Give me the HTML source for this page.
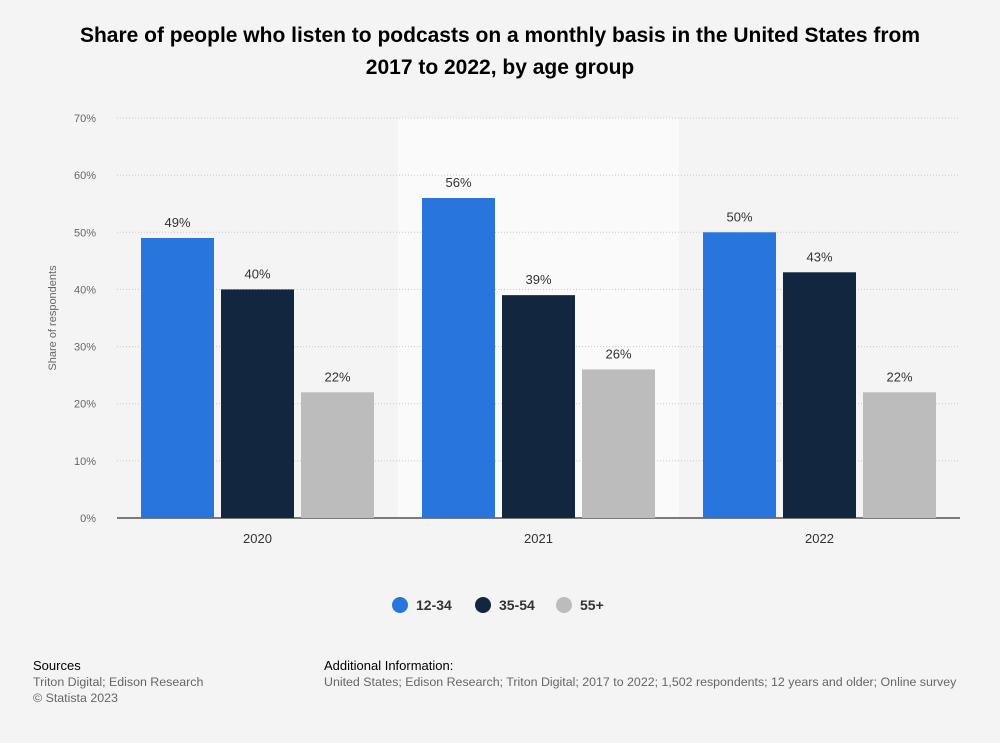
<!DOCTYPE html>
<html><head><meta charset="utf-8"><style>
body{margin:0;width:1000px;height:743px;background:#f4f4f4;font-family:"Liberation Sans",Arial,sans-serif;overflow:hidden;position:relative}
.t{position:absolute;left:0;width:1000px;top:20px;text-align:center;font-weight:bold;font-size:21px;line-height:32px;color:#000}
.f{position:absolute;font-size:12.4px;color:#666;line-height:16px}
.f b{color:#000;font-weight:normal;font-size:13px}
</style></head><body>
<div class="t">Share of people who listen to podcasts on a monthly basis in the United States from<br>2017 to 2022, by age group</div>
<svg id="c" width="1000" height="743" style="position:absolute;left:0;top:0"></svg>
<div class="f" style="left:33px;top:658px"><b>Sources</b><br>Triton Digital; Edison Research<br>© Statista 2023</div>
<div class="f" style="left:324px;top:658px"><b>Additional Information:</b><br>United States; Edison Research; Triton Digital; 2017 to 2022; 1,502 respondents; 12 years and older; Online survey</div>
<script>
const categories=["2020","2021","2022"];
const seriesNames=["12-34","35-54","55+"];
const s1=[49,56,50];
const s2=[40,39,43];
const s3=[22,26,22];
const ticks=[0,10,20,30,40,50,60,70];
const colors=["#2876dd","#12263f","#bcbcbc"];
const svg=document.getElementById('c');const NS="http://www.w3.org/2000/svg";
const x0=117,x1=960,y0=518,yTop=118,ymax=70;
const y=v=>y0-(v/ymax)*(y0-yTop);
const gw=(x1-x0)/categories.length;
function mk(t,a,p){const e=document.createElementNS(NS,t);for(const k in a)e.setAttribute(k,a[k]);(p||svg).appendChild(e);return e;}
let band=mk('rect',{x:x0+gw,y:yTop,width:gw,height:y0-yTop,fill:"#fafafa"});


ticks.forEach(t=>{
 if(t>0){let l=mk('line',{x1:x0,x2:x1,y1:y(t),y2:y(t),stroke:"#c8c8c8","stroke-dasharray":"1,2"});
 
 }
 let tx=mk('text',{x:96,y:y(t)+4,"text-anchor":"end","font-size":"11","fill":"#666"});tx.textContent=t+"%";
 
 
});
let ax=mk('line',{x1:x0,x2:x1,y1:y0,y2:y0,stroke:"#000","stroke-width":"1"});


let yt=mk('text',{x:0,y:0,transform:"translate(56,318) rotate(-90)","text-anchor":"middle","font-size":"11","fill":"#666"});yt.textContent="Share of respondents";


const series=[s1,s2,s3];const bw=73,gap=7;
categories.forEach((c,i)=>{
 const cx=x0+gw*(i+0.5);
 let lt=mk('text',{x:cx,y:y0+25,"text-anchor":"middle","font-size":"13","fill":"#333"});lt.textContent=c;
 
 
 series.forEach((s,j)=>{
  const bx=cx-bw*1.5-gap+j*(bw+gap);
  let r=mk('rect',{x:bx,y:y(s[i]),width:bw,height:y0-y(s[i]),fill:colors[j]});
  
  
  let v=mk('text',{x:bx+bw/2,y:y(s[i])-11,"text-anchor":"middle","font-size":"13","fill":"#333"});v.textContent=s[i]+"%";
  
  
 });
});
const lx=[400,483,564];
seriesNames.forEach((n,j)=>{
 let g=mk('g',{});
 
 
 mk('circle',{cx:lx[j],cy:605,r:8,fill:colors[j]},g);
 let t=mk('text',{x:lx[j]+16,y:610,"font-size":"14","font-weight":"bold","fill":"#333"},g);t.textContent=n;
});
</script>
</body></html>
